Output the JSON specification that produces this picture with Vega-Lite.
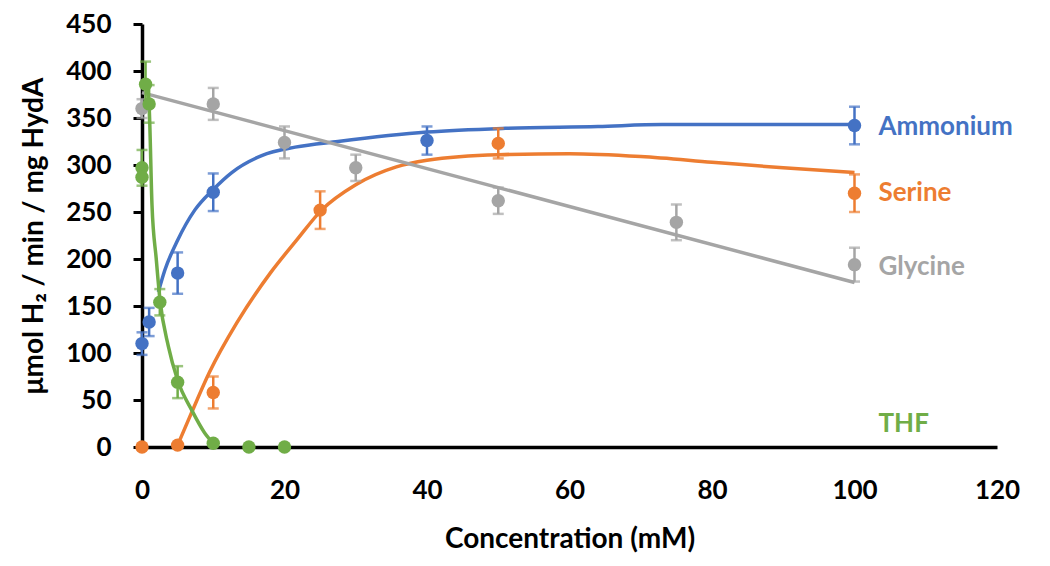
{
  "$schema": "https://vega.github.io/schema/vega-lite/v6.json",
  "autosize": "none",
  "width": 855,
  "height": 423,
  "padding": {"left": 142, "top": 24, "right": 53, "bottom": 119},
  "background": "white",
  "config": {
    "view": {"stroke": null},
    "font": "Lato",
    "axis": {
      "grid": false,
      "domainColor": "black",
      "domainWidth": 3.5,
      "labelFont": "Lato",
      "labelFontWeight": "bold",
      "labelFontSize": 26,
      "labelColor": "black",
      "labelFlush": false,
      "titleFont": "Lato",
      "titleFontWeight": "bold",
      "titleFontSize": 28,
      "titleColor": "black"
    }
  },
  "datasets": {
    "points": [
      {"series": "Ammonium", "x": 0, "y": 110, "lo": 98, "hi": 122},
      {"series": "Ammonium", "x": 1, "y": 133, "lo": 118, "hi": 148},
      {"series": "Ammonium", "x": 5, "y": 185, "lo": 163, "hi": 207},
      {"series": "Ammonium", "x": 10, "y": 271, "lo": 251, "hi": 291},
      {"series": "Ammonium", "x": 40, "y": 326, "lo": 311, "hi": 341},
      {"series": "Ammonium", "x": 100, "y": 342, "lo": 322, "hi": 362},
      {"series": "Serine", "x": 0, "y": 0, "lo": 0, "hi": 0},
      {"series": "Serine", "x": 5, "y": 2, "lo": 2, "hi": 2},
      {"series": "Serine", "x": 10, "y": 58, "lo": 41, "hi": 75},
      {"series": "Serine", "x": 25, "y": 252, "lo": 232, "hi": 272},
      {"series": "Serine", "x": 50, "y": 323, "lo": 307, "hi": 339},
      {"series": "Serine", "x": 100, "y": 270, "lo": 250, "hi": 290},
      {"series": "Glycine", "x": 0, "y": 360, "lo": 350, "hi": 370},
      {"series": "Glycine", "x": 10, "y": 365, "lo": 348, "hi": 382},
      {"series": "Glycine", "x": 20, "y": 324, "lo": 307, "hi": 341},
      {"series": "Glycine", "x": 30, "y": 297, "lo": 283, "hi": 311},
      {"series": "Glycine", "x": 50, "y": 262, "lo": 248, "hi": 276},
      {"series": "Glycine", "x": 75, "y": 239, "lo": 220, "hi": 258},
      {"series": "Glycine", "x": 100, "y": 194, "lo": 176, "hi": 212},
      {"series": "THF", "x": 0, "y": 297, "lo": 278, "hi": 316},
      {"series": "THF", "x": 0, "y": 287, "lo": 287, "hi": 287},
      {"series": "THF", "x": 0.5, "y": 386, "lo": 362, "hi": 410},
      {"series": "THF", "x": 1, "y": 365, "lo": 345, "hi": 385},
      {"series": "THF", "x": 2.5, "y": 154, "lo": 140, "hi": 168},
      {"series": "THF", "x": 5, "y": 69, "lo": 52, "hi": 86},
      {"series": "THF", "x": 10, "y": 4, "lo": 4, "hi": 4},
      {"series": "THF", "x": 15, "y": 0, "lo": 0, "hi": 0},
      {"series": "THF", "x": 20, "y": 0, "lo": 0, "hi": 0}
    ],
    "curves": [
      {"series": "Ammonium", "x": 2.3, "y": 165},
      {"series": "Ammonium", "x": 3.2, "y": 188},
      {"series": "Ammonium", "x": 5, "y": 220},
      {"series": "Ammonium", "x": 7.4, "y": 252},
      {"series": "Ammonium", "x": 10, "y": 274},
      {"series": "Ammonium", "x": 12.6, "y": 292},
      {"series": "Ammonium", "x": 16.8, "y": 310},
      {"series": "Ammonium", "x": 21.5, "y": 319},
      {"series": "Ammonium", "x": 27.5, "y": 325},
      {"series": "Ammonium", "x": 40, "y": 335},
      {"series": "Ammonium", "x": 51, "y": 339},
      {"series": "Ammonium", "x": 64, "y": 341},
      {"series": "Ammonium", "x": 73, "y": 343},
      {"series": "Ammonium", "x": 100, "y": 343},
      {"series": "Serine", "x": 5, "y": 2},
      {"series": "Serine", "x": 6.7, "y": 32},
      {"series": "Serine", "x": 9.5, "y": 80},
      {"series": "Serine", "x": 13.3, "y": 132},
      {"series": "Serine", "x": 18, "y": 185},
      {"series": "Serine", "x": 21.7, "y": 220},
      {"series": "Serine", "x": 25.2, "y": 252},
      {"series": "Serine", "x": 30, "y": 279},
      {"series": "Serine", "x": 35.7, "y": 298},
      {"series": "Serine", "x": 40, "y": 305},
      {"series": "Serine", "x": 50, "y": 311},
      {"series": "Serine", "x": 60, "y": 312},
      {"series": "Serine", "x": 70, "y": 309},
      {"series": "Serine", "x": 80, "y": 303},
      {"series": "Serine", "x": 90, "y": 297},
      {"series": "Serine", "x": 100, "y": 292},
      {"series": "Glycine", "x": 0, "y": 377},
      {"series": "Glycine", "x": 100, "y": 175},
      {"series": "THF", "x": 0.5, "y": 392},
      {"series": "THF", "x": 1, "y": 362},
      {"series": "THF", "x": 1.4, "y": 258},
      {"series": "THF", "x": 2, "y": 200},
      {"series": "THF", "x": 2.5, "y": 158},
      {"series": "THF", "x": 3.7, "y": 107},
      {"series": "THF", "x": 5, "y": 71},
      {"series": "THF", "x": 7, "y": 39},
      {"series": "THF", "x": 8.8, "y": 15},
      {"series": "THF", "x": 10, "y": 4}
    ],
    "labels": [
      {"series": "Ammonium", "x": 100, "y": 340},
      {"series": "Serine", "x": 100, "y": 270},
      {"series": "Glycine", "x": 100, "y": 191},
      {"series": "THF", "x": 100, "y": 24}
    ]
  },
  "encoding": {
    "x": {
      "field": "x", "type": "quantitative",
      "scale": {"domain": [0, 120], "nice": false},
      "axis": {"values": [0, 20, 40, 60, 80, 100, 120], "ticks": false, "labelPadding": 30, "title": "Concentration (mM)", "titlePadding": 22}
    },
    "y": {
      "field": "y", "type": "quantitative",
      "scale": {"domain": [0, 450], "nice": false},
      "axis": {"values": [0, 50, 100, 150, 200, 250, 300, 350, 400, 450], "tickSize": 9, "tickWidth": 3, "tickColor": "black", "labelPadding": 22, "title": "μmol H₂ / min / mg HydA", "titlePadding": 17}
    },
    "color": {
      "field": "series", "type": "nominal",
      "scale": {"domain": ["Ammonium", "Serine", "Glycine", "THF"], "range": ["#4472C4", "#ED7D31", "#A5A5A5", "#70AD47"]},
      "legend": null
    }
  },
  "layer": [
    {
      "data": {"name": "curves"},
      "mark": {"type": "line", "interpolate": "monotone", "strokeWidth": 3.5}
    },
    {
      "data": {"name": "points"},
      "transform": [{"filter": "datum.hi > datum.lo"}],
      "mark": {"type": "errorbar", "ticks": true, "size": 11, "thickness": 2.5},
      "encoding": {
        "y": {"field": "lo", "type": "quantitative"},
        "y2": {"field": "hi"}
      }
    },
    {
      "data": {"name": "points"},
      "mark": {"type": "circle", "size": 180, "opacity": 1}
    },
    {
      "data": {"name": "labels"},
      "mark": {"type": "text", "align": "left", "baseline": "middle", "dx": 24, "font": "Lato", "fontWeight": "bold", "fontSize": 26},
      "encoding": {"text": {"field": "series"}}
    }
  ]
}
